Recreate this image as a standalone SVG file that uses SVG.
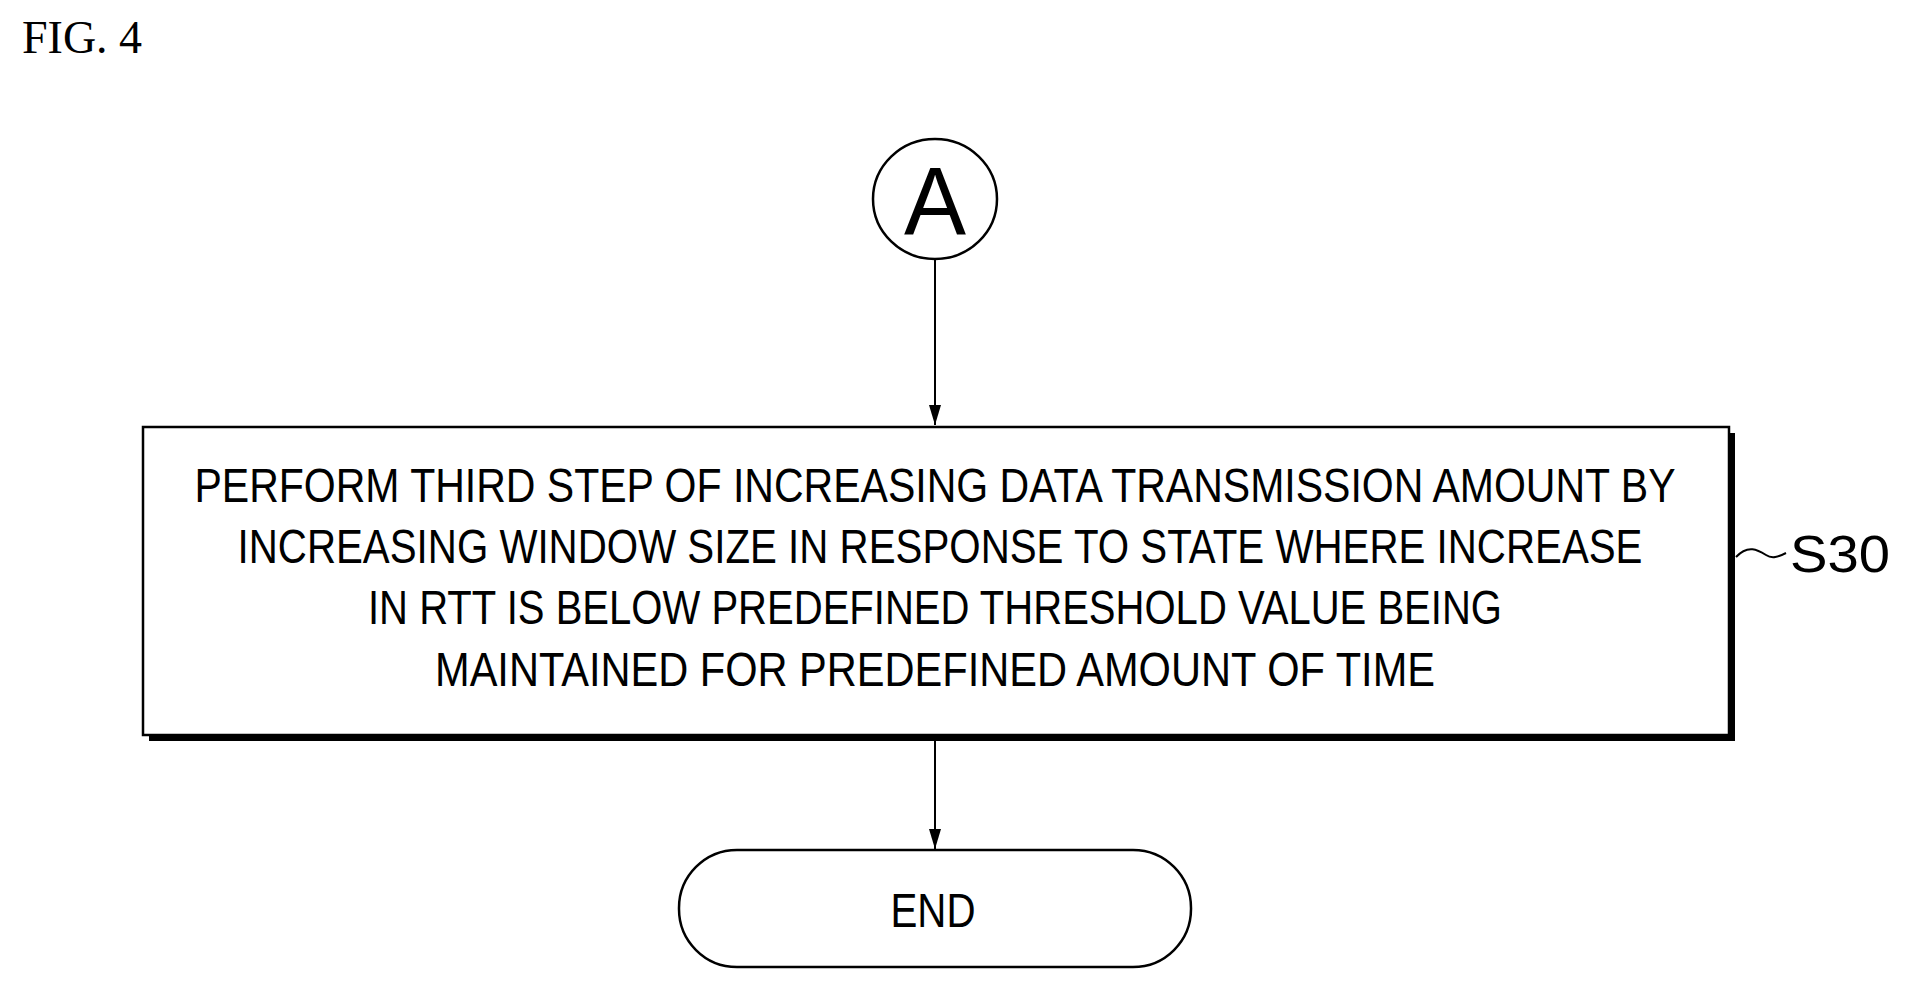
<svg xmlns="http://www.w3.org/2000/svg" width="1911" height="991" viewBox="0 0 1911 991">
<style>
.s{fill:#fff;stroke:#000;stroke-width:2.5}
.t{font-family:"Liberation Sans",Arial,sans-serif;font-size:48px;text-anchor:middle;fill:#000}
.c{stroke:#000;stroke-width:2;fill:none}
</style>
<defs><marker id="ar" markerWidth="20" markerHeight="12" refX="20" refY="6" orient="auto" markerUnits="userSpaceOnUse" viewBox="0 0 20 12"><path d="M0,0 L20,6 L0,12 Z" fill="#000"/></marker></defs>
<rect width="1911" height="991" fill="#fff"/>
<text x="22" y="53" font-family="Liberation Serif,serif" font-size="46">FIG. 4</text>
<g id="nodeA"><ellipse cx="935" cy="199" rx="62" ry="60" class="s"/><text x="935" y="234" class="t" style="font-size:96px" textLength="62" lengthAdjust="spacingAndGlyphs">A</text></g>
<g id="S30">
<rect x="149" y="433" width="1586" height="308" fill="#000"/>
<rect x="143" y="427" width="1586" height="308" class="s"/>
<text x="935" y="502" class="t" textLength="1481" lengthAdjust="spacingAndGlyphs">PERFORM THIRD STEP OF INCREASING DATA TRANSMISSION AMOUNT BY</text>
<text x="940" y="563" class="t" textLength="1405" lengthAdjust="spacingAndGlyphs">INCREASING WINDOW SIZE IN RESPONSE TO STATE WHERE INCREASE</text>
<text x="935" y="624" class="t" textLength="1134" lengthAdjust="spacingAndGlyphs">IN RTT IS BELOW PREDEFINED THRESHOLD VALUE BEING</text>
<text x="935" y="686" class="t" textLength="1000" lengthAdjust="spacingAndGlyphs">MAINTAINED FOR PREDEFINED AMOUNT OF TIME</text>
<path d="M1736,557 C1748,544 1758,550 1766,555 C1772,559 1778,557 1786,553" class="c"/>
<text x="1840" y="572" class="t" style="font-size:52px" textLength="100" lengthAdjust="spacingAndGlyphs">S30</text>
</g>
<g id="end"><rect x="679" y="850" width="512" height="117" rx="58" class="s"/><text x="933" y="927" class="t" textLength="85" lengthAdjust="spacingAndGlyphs">END</text></g>
<g id="connectors">
<line x1="935" y1="259" x2="935" y2="425" class="c" marker-end="url(#ar)"/>
<line x1="935" y1="741" x2="935" y2="849" class="c" marker-end="url(#ar)"/>
</g>
</svg>
